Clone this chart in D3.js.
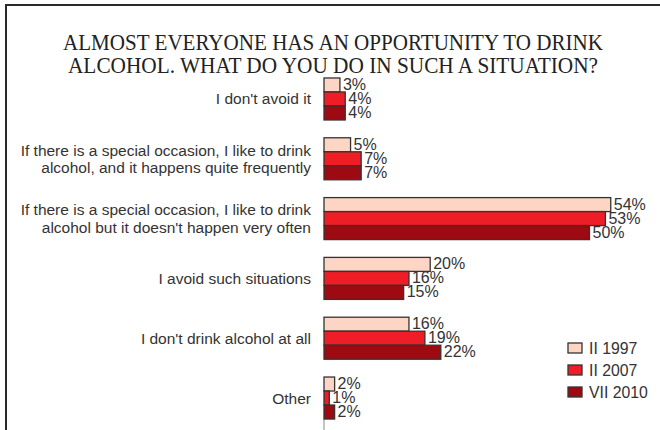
<!DOCTYPE html>
<html>
<head>
<meta charset="utf-8">
<script src="https://cdn.jsdelivr.net/npm/d3@7"></script>
<style>
  html, body { margin: 0; padding: 0; background: #fff; }
  svg { display: block; }
  .title { font-family: "Liberation Serif", "DejaVu Serif", "Times New Roman", Times, serif; }
  .sans { font-family: "Liberation Sans", Arial, Helvetica, sans-serif; }
</style>
</head>
<body>
<script>
// Survey answers (percent of respondents) for three survey waves
const categories = [
  ["I don't avoid it"],
  ["If there is a special occasion, I like to drink", "alcohol, and it happens quite frequently"],
  ["If there is a special occasion, I like to drink", "alcohol but it doesn't happen very often"],
  ["I avoid such situations"],
  ["I don't drink alcohol at all"],
  ["Other"]
];
const seriesNames = ["II 1997", "II 2007", "VII 2010"];
const values1997 = [3, 5, 54, 20, 16, 2];
const values2007 = [4, 7, 53, 16, 19, 1];
const values2010 = [4, 7, 50, 15, 22, 2];
const seriesColors = ["#fdd5c4", "#ee1d26", "#9e0a12"];
const titleLines = [
  "ALMOST EVERYONE HAS AN OPPORTUNITY TO DRINK",
  "ALCOHOL. WHAT DO YOU DO IN SUCH A SITUATION?"
];

const seriesValues = [values1997, values2007, values2010];
const W = 660, H = 430;

const svg = d3.select("body").append("svg")
  .attr("width", W).attr("height", H);

// frame (top and left edges)
svg.append("path")
  .attr("d", `M6,${H} L6,5 L${W},5`)
  .attr("fill", "none")
  .attr("stroke", "#2a2a2a")
  .attr("stroke-width", 2);

// title, each line fitted to its width
const titleWidths = [540, 530];
svg.append("g")
  .selectAll("text").data(titleLines).join("text")
  .attr("class", "title")
  .attr("x", 333)
  .attr("y", (d, i) => 50 + i * 23)
  .attr("text-anchor", "middle")
  .attr("font-size", 22.5)
  .attr("fill", "#222")
  .attr("textLength", (d, i) => titleWidths[i])
  .attr("lengthAdjust", "spacingAndGlyphs")
  .text(d => d);

const x = d3.scaleLinear().domain([0, 100]).range([324, 855]);

const y = d3.scaleBand()
  .domain(d3.range(categories.length))
  .range([69, 428])
  .paddingInner(0.2977)
  .paddingOuter(0.15);

const ySub = d3.scaleBand()
  .domain(d3.range(seriesNames.length))
  .range([0, y.bandwidth()]);

// baseline stub below the last group
svg.append("line")
  .attr("x1", x(0)).attr("x2", x(0))
  .attr("y1", y(categories.length - 1) + y.bandwidth())
  .attr("y2", H)
  .attr("stroke", "#888").attr("stroke-width", 1);

const groups = svg.selectAll("g.group")
  .data(categories)
  .join("g")
  .attr("class", "group")
  .attr("transform", (d, i) => `translate(0,${y(i)})`);

// category labels
groups.append("text")
  .attr("class", "sans")
  .attr("text-anchor", "end")
  .attr("font-size", 15.5)
  .attr("fill", "#333")
  .each(function (lines) {
    const t = d3.select(this);
    const lh = 17.5;
    const c = y.bandwidth() / 2;
    lines.forEach((line, j) => {
      t.append("tspan")
        .attr("x", 311)
        .attr("y", c + (j - (lines.length - 1) / 2) * lh + 5.5)
        .text(line);
    });
  });

// bars and value labels
groups.each(function (d, i) {
  const g = d3.select(this);
  seriesValues.forEach((vals, s) => {
    const v = vals[i];
    g.append("rect")
      .attr("x", x(0))
      .attr("y", ySub(s))
      .attr("width", x(v) - x(0))
      .attr("height", ySub.bandwidth())
      .attr("fill", seriesColors[s])
      .attr("stroke", "#333")
      .attr("stroke-width", 1.3);
    g.append("text")
      .attr("class", "sans")
      .attr("x", x(v) + 3)
      .attr("y", ySub(s) + ySub.bandwidth() / 2 + 5)
      .attr("font-size", 16)
      .attr("fill", "#333")
      .text(v + "%");
  });
});

// legend
const legend = svg.append("g").attr("transform", "translate(568,343)");
const li = legend.selectAll("g").data(seriesNames).join("g")
  .attr("transform", (d, i) => `translate(0,${i * 22})`);
li.append("rect")
  .attr("width", 14).attr("height", 10)
  .attr("fill", (d, i) => seriesColors[i])
  .attr("stroke", "#333").attr("stroke-width", 1.3);
li.append("text")
  .attr("class", "sans")
  .attr("x", 21).attr("y", 11)
  .attr("font-size", 15.8)
  .attr("fill", "#333")
  .text(d => d);
</script>
</body>
</html>
